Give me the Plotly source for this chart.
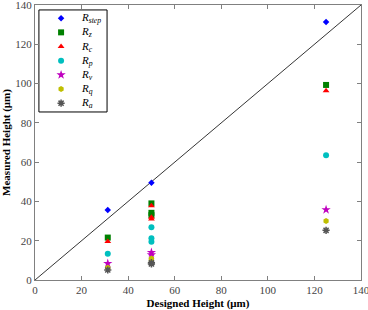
import plotly.graph_objects as go

# Series values: (x list, y list)
R_step_x = [31.25, 50, 125]
R_step_y = [35.6, 49.5, 131.4]
R_z_x = [31.25, 50, 50, 50, 125]
R_z_y = [21.6, 39.0, 34.2, 33.0, 99.3]
R_c_x = [31.25, 50, 50, 50, 125]
R_c_y = [19.6, 37.8, 32.0, 31.0, 96.4]
R_p_x = [31.25, 50, 50, 50, 125]
R_p_y = [13.4, 26.8, 21.2, 19.5, 63.5]
R_v_x = [31.25, 50, 50, 125]
R_v_y = [8.4, 14.0, 12.8, 35.8]
R_q_x = [31.25, 50, 50, 125]
R_q_y = [6.3, 11.0, 10.0, 30.0]
R_a_x = [31.25, 50, 50, 125]
R_a_y = [5.1, 8.8, 8.2, 25.3]

tick_vals = [0, 20, 40, 60, 80, 100, 120, 140]
tick_text = ["0", "20", "40", "60", "80", "100", "120", "140"]

names = ["<i>R</i><sub><i>step</i></sub>", "<i>R</i><sub><i>z</i></sub>",
         "<i>R</i><sub><i>c</i></sub>", "<i>R</i><sub><i>p</i></sub>",
         "<i>R</i><sub><i>v</i></sub>", "<i>R</i><sub><i>q</i></sub>",
         "<i>R</i><sub><i>a</i></sub>"]
xs = [R_step_x, R_z_x, R_c_x, R_p_x, R_v_x, R_q_x, R_a_x]
ys = [R_step_y, R_z_y, R_c_y, R_p_y, R_v_y, R_q_y, R_a_y]
colors = ["#0000ff", "#008000", "#ff0000", "#00bfbf", "#bf00bf", "#bfbf00", "#555555"]
symbols = ["diamond", "square", "triangle-up", "circle", "star", "hexagon", "asterisk-open"]
sizes = [5, 6, 6, 6, 7, 6, 6]

diag = [0, 140]

# legend layout (fractions of the plot area)
leg_top, leg_step = 0.952, 0.0515
leg_mx, leg_tx = 0.08, 0.135

fig = go.Figure()
fig.add_trace(go.Scatter(x=diag, y=diag, mode="lines", line=dict(color="black", width=0.8),
                         showlegend=False, hoverinfo="skip"))
for i, (n, x, y, c, s, sz) in enumerate(zip(names, xs, ys, colors, symbols, sizes)):
    m = dict(color=c, symbol=s, size=sz)
    if s == "asterisk-open":
        m["line"] = dict(color=c, width=1.5)
    fig.add_trace(go.Scatter(x=x, y=y, mode="markers", name=n, marker=m, showlegend=False))
    ly = leg_top - i * leg_step
    fig.add_trace(go.Scatter(x=[leg_mx], y=[ly], mode="markers", marker=m, showlegend=False,
                             xaxis="x2", yaxis="y2", hoverinfo="skip"))
    fig.add_annotation(x=leg_tx, y=ly, xref="x2", yref="y2", text=n, showarrow=False,
                       xanchor="left", yanchor="middle",
                       font=dict(family="Liberation Serif", size=11, color="black"))

fig.add_shape(type="rect", xref="x2", yref="y2", x0=0.012, x1=0.221, y0=0.611, y1=0.982,
              line=dict(color="black", width=1), fillcolor="rgba(0,0,0,0)", layer="below")

axis_common = dict(range=[0, 140], tickvals=tick_vals, ticktext=tick_text,
                   showline=True, mirror="allticks", ticklabeloverflow="allow",
                   automargin=False,
                   linecolor="#808080", linewidth=1, ticks="inside", ticklen=4,
                   tickcolor="#808080", showgrid=False, zeroline=False,
                   tickfont=dict(family="Liberation Serif", size=11, color="#444444"))
fig.update_layout(
    width=368, height=310,
    margin=dict(l=35, r=7, t=5, b=30),
    plot_bgcolor="white", paper_bgcolor="white",
    font=dict(family="Liberation Serif", color="black"),
    showlegend=False,
    xaxis=dict(**axis_common, title=dict(text="<b>Designed Height (μm)</b>",
               font=dict(family="Liberation Serif", size=11), standoff=4)),
    yaxis=dict(**axis_common, title=dict(text="<b>Measured Height (μm)</b>",
               font=dict(family="Liberation Serif", size=11), standoff=2)),
    xaxis2=dict(range=[0, 1], overlaying="x", visible=False, fixedrange=True),
    yaxis2=dict(range=[0, 1], overlaying="y", visible=False, fixedrange=True),
)
fig.write_html("out.html")
